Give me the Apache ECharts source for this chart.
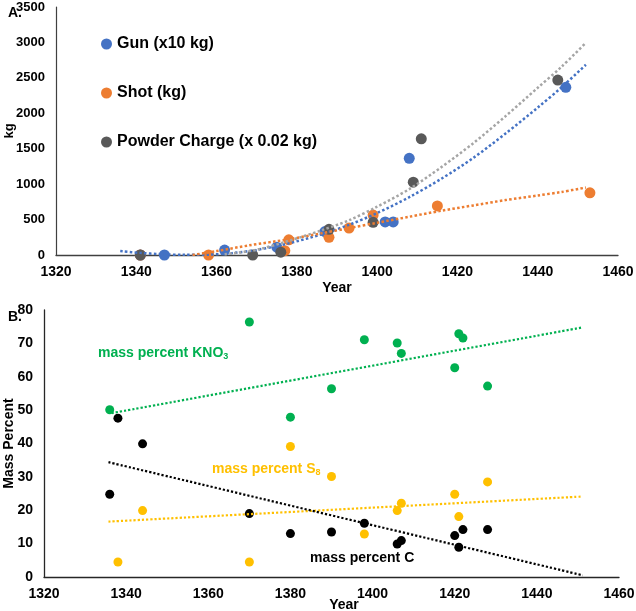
<!DOCTYPE html>
<html>
<head>
<meta charset="utf-8">
<script src="https://cdn.jsdelivr.net/npm/echarts@6/dist/echarts.min.js"></script>
<style>
html,body{margin:0;padding:0;background:#fff;}
#chart{width:636px;height:611px;}
</style>
</head>
<body>
<div id="chart"></div>
<script>
// ---------- Panel A data ----------
var gunYears    = [1341, 1347, 1362, 1375, 1387, 1402, 1404, 1408, 1447];
var gunValues   = [0, 0, 70, 110, 330, 466, 466, 1364, 2366];
var shotYears   = [1341, 1358, 1377, 1378, 1388, 1393, 1399, 1415, 1453];
var shotValues  = [0, 0, 61, 215, 250, 380, 564, 692, 878];
var powderYears = [1341, 1369, 1376, 1388, 1399, 1409, 1411, 1445];
var powderValues= [0, 0, 40, 362, 461, 1028, 1639, 2468];

// trendlines
var gunTrendYears   = [1336, 1341, 1346, 1352, 1358, 1364, 1370, 1378, 1386, 1393, 1400, 1408, 1416, 1424, 1432, 1440, 1446, 1452];
var gunTrendValues  = [55, 30, 12, 2, 5, 28, 72, 165, 290, 426, 592, 816, 1076, 1372, 1715, 2080, 2370, 2685];
var shotTrendYears  = [1354, 1360, 1368, 1378, 1386, 1393, 1400, 1408, 1416, 1424, 1432, 1440, 1446, 1452];
var shotTrendValues = [0, 55, 135, 222, 305, 380, 455, 540, 625, 700, 775, 840, 890, 952];
var powderTrendYears  = [1362, 1370, 1378, 1386, 1393, 1400, 1408, 1416, 1424, 1432, 1440, 1446, 1452];
var powderTrendValues = [10, 74, 200, 346, 490, 682, 930, 1240, 1580, 1960, 2360, 2660, 2995];

var topYTicks = [0, 500, 1000, 1500, 2000, 2500, 3000, 3500];
var xTicks = [1320, 1340, 1360, 1380, 1400, 1420, 1440, 1460];

// ---------- Panel B data ----------
var knoYears = [1336, 1370, 1380, 1390, 1398, 1406, 1407, 1420, 1421, 1422, 1428];
var knoValues = [50.1, 76.4, 47.9, 56.4, 71.1, 70.1, 67.0, 62.7, 72.9, 71.6, 57.2];
var sYears = [1338, 1344, 1370, 1380, 1390, 1398, 1406, 1407, 1420, 1421, 1428];
var sValues = [4.5, 19.9, 4.5, 39.1, 30.1, 12.9, 19.9, 22.1, 24.8, 18.1, 28.5];
var cYears = [1336, 1338, 1344, 1370, 1380, 1390, 1398, 1406, 1407, 1420, 1421, 1422, 1428];
var cValues = [24.8, 47.6, 39.9, 19.0, 13.0, 13.5, 16.1, 9.9, 10.9, 12.4, 8.9, 14.2, 14.2];

var knoTrendYears = [1336.5, 1451.2];
var knoTrendValues = [49.1, 74.8];
var sTrendYears = [1335.7, 1450.9];
var sTrendValues = [16.6, 24.1];
var cTrendYears = [1335.7, 1451.2];
var cTrendValues = [34.4, 0.5];

var bottomYTicks = [0, 10, 20, 30, 40, 50, 60, 70, 80];

function pairs(xs, ys) { return xs.map(function (x, i) { return [x, ys[i]]; }); }
function plain(v) { return String(v); }

var FONT = '"Liberation Sans", Arial, sans-serif';
var C_BLUE = '#4472C4', C_ORANGE = '#ED7D31', C_GRAY = '#595959', C_GRAYT = '#A5A5A5';
var C_GREEN = '#00B050', C_YELLOW = '#FFC000', C_BLACK = '#000000';

function scatter(name, data, color, gi, size) {
  return { name: name, type: 'scatter', xAxisIndex: gi, yAxisIndex: gi, data: data,
    symbolSize: size, itemStyle: { color: color, opacity: 1 }, z: 2, silent: true, animation: false };
}
function trend(data, color, gi, w, dash) {
  return { type: 'line', xAxisIndex: gi, yAxisIndex: gi, data: data, showSymbol: false, symbol: 'none',
    smooth: 0.3, lineStyle: { color: color, width: w, type: dash }, z: 5, silent: true, animation: false };
}

var chart = echarts.init(document.getElementById('chart'), null, { renderer: 'canvas' });

var axisLabelX = { color: '#000', fontWeight: 'bold', fontSize: 14, fontFamily: FONT, margin: 10, formatter: plain };

chart.setOption({
  backgroundColor: '#fff',
  animation: false,
  grid: [
    { left: 56, top: 7, width: 562, height: 248, containLabel: false, outerBoundsMode: 'none' },
    { left: 44, top: 310, width: 575, height: 267, containLabel: false, outerBoundsMode: 'none' }
  ],
  legend: {
    data: ['Gun (x10 kg)', 'Shot (kg)', 'Powder Charge (x 0.02 kg)'],
    orient: 'vertical', left: 96, top: 31, itemGap: 33,
    icon: 'circle', itemWidth: 11, itemHeight: 11,
    textStyle: { color: '#000', fontWeight: 'bold', fontSize: 16, fontFamily: FONT },
    selectedMode: false
  },
  xAxis: [
    { gridIndex: 0, type: 'value', min: xTicks[0], max: xTicks[xTicks.length - 1], interval: 20,
      axisLine: { lineStyle: { color: '#404040', width: 1.3 } }, axisTick: { show: false },
      splitLine: { show: false }, axisLabel: axisLabelX,
      name: 'Year', nameLocation: 'middle', nameGap: 26, nameMoveOverlap: false,
      nameTextStyle: { color: '#000', fontWeight: 'bold', fontSize: 14, fontFamily: FONT } },
    { gridIndex: 1, type: 'value', min: xTicks[0], max: xTicks[xTicks.length - 1], interval: 20,
      axisLine: { lineStyle: { color: '#262626', width: 1.3 } }, axisTick: { show: false },
      splitLine: { show: false }, axisLabel: axisLabelX }
  ],
  yAxis: [
    { gridIndex: 0, type: 'value', min: topYTicks[0], max: topYTicks[topYTicks.length - 1], interval: 500,
      axisLine: { show: true, lineStyle: { color: '#404040', width: 1.2 } }, axisTick: { show: false },
      splitLine: { show: false },
      axisLabel: { color: '#000', fontWeight: 'bold', fontSize: 13, fontFamily: FONT, margin: 11, formatter: plain },
      name: 'kg', nameLocation: 'middle', nameGap: 40, nameMoveOverlap: false,
      nameTextStyle: { color: '#000', fontWeight: 'bold', fontSize: 13, fontFamily: FONT } },
    { gridIndex: 1, type: 'value', min: bottomYTicks[0], max: bottomYTicks[bottomYTicks.length - 1], interval: 10,
      axisLine: { show: true, lineStyle: { color: '#262626', width: 1.3 } }, axisTick: { show: false },
      splitLine: { show: false },
      axisLabel: { color: '#000', fontWeight: 'bold', fontSize: 14, fontFamily: FONT, margin: 11, formatter: plain },
      name: 'Mass Percent', nameLocation: 'middle', nameGap: 28, nameMoveOverlap: false,
      nameTextStyle: { color: '#000', fontWeight: 'bold', fontSize: 14, fontFamily: FONT } }
  ],
  graphic: [
    { type: 'text', left: 8, top: 6, style: { text: 'A.', fill: '#000', font: 'bold 14px ' + FONT } },
    { type: 'text', left: 8, top: 310, style: { text: 'B.', fill: '#000', font: 'bold 14px ' + FONT } },
    { type: 'text', x: 344, y: 605, style: { text: 'Year', fill: '#000', font: 'bold 14px ' + FONT, align: 'center', verticalAlign: 'middle' } },
    { type: 'text', x: 98, y: 353, z: 10, style: {
        text: '{a|mass percent KNO}{b|3}', verticalAlign: 'middle',
        rich: { a: { fill: C_GREEN, fontSize: 14, fontWeight: 'bold', fontFamily: FONT },
                b: { fill: C_GREEN, fontSize: 9, fontWeight: 'bold', fontFamily: FONT, padding: [7, 0, 0, 0] } } } },
    { type: 'text', x: 212, y: 469, z: 10, style: {
        text: '{a|mass percent S}{b|8}', verticalAlign: 'middle',
        rich: { a: { fill: C_YELLOW, fontSize: 14, fontWeight: 'bold', fontFamily: FONT },
                b: { fill: C_YELLOW, fontSize: 9, fontWeight: 'bold', fontFamily: FONT, padding: [7, 0, 0, 0] } } } },
    { type: 'text', x: 310, y: 558, z: 10, style: { text: 'mass percent C', fill: '#000', font: 'bold 14px ' + FONT, verticalAlign: 'middle' } }
  ],
  series: [
    scatter('Gun (x10 kg)', pairs(gunYears, gunValues), C_BLUE, 0, 11),
    scatter('Shot (kg)', pairs(shotYears, shotValues), C_ORANGE, 0, 11),
    scatter('Powder Charge (x 0.02 kg)', pairs(powderYears, powderValues), C_GRAY, 0, 11),
    trend(pairs(gunTrendYears, gunTrendValues), C_BLUE, 0, 2.5, [2.5, 2.3]),
    trend(pairs(shotTrendYears, shotTrendValues), C_ORANGE, 0, 2.5, [2.5, 2.3]),
    trend(pairs(powderTrendYears, powderTrendValues), C_GRAYT, 0, 2.5, [2.5, 2.3]),
    scatter('KNO3', pairs(knoYears, knoValues), C_GREEN, 1, 9),
    scatter('S8', pairs(sYears, sValues), C_YELLOW, 1, 9),
    scatter('C', pairs(cYears, cValues), C_BLACK, 1, 9),
    trend(pairs(knoTrendYears, knoTrendValues), C_GREEN, 1, 2.2, [2.2, 2]),
    trend(pairs(sTrendYears, sTrendValues), C_YELLOW, 1, 2.2, [2.2, 2]),
    trend(pairs(cTrendYears, cTrendValues), C_BLACK, 1, 2.2, [2.2, 2])
  ]
});
</script>
</body>
</html>
